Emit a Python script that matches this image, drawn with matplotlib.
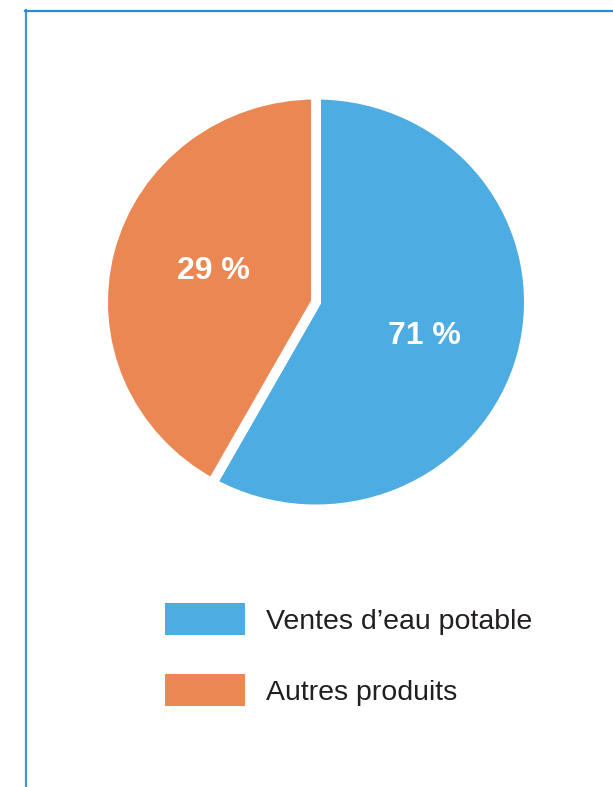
import matplotlib
matplotlib.use("Agg")
import matplotlib.pyplot as plt
from matplotlib.lines import Line2D
from matplotlib.patches import Patch
from matplotlib.transforms import offset_copy

# Data (wedge sizes as drawn in the reference, labels as printed)
categories = ["Ventes d\u2019eau potable", "Autres produits"]
wedge_sizes = [58.1, 41.9]
label_texts = ["71 %", "29 %"]
colors = ["#4DACE1", "#EB8753"]

W, H, DPI = 613, 787, 100
fig = plt.figure(figsize=(W / DPI, H / DPI), dpi=DPI)
fig.patch.set_facecolor("white")

# pie axes placed in pixel terms (slightly elliptical like the reference)
cx, cy = 316, 302
half_w, half_h = 213, 207.5
ax = fig.add_axes([(cx - half_w) / W, (H - cy - half_h) / H,
                   2 * half_w / W, 2 * half_h / H])
wedges, texts, autotexts = ax.pie(
    wedge_sizes, colors=colors, startangle=90, counterclock=False,
    radius=1.0, autopct=lambda p: "", pctdistance=0.53,
    wedgeprops=dict(edgecolor="white", linewidth=7.2),
)
label_nudges = [(-1, -6), (7, 3)]  # pixel nudges for label placement
for t, s, (dx, dy) in zip(autotexts, label_texts, label_nudges):
    t.set_text(s)
    t.set_color("white")
    t.set_fontsize(23)
    t.set_fontweight("bold")
    t.set_fontfamily("Liberation Sans")
    t.set_transform(offset_copy(ax.transData, fig=fig, x=dx, y=dy, units="dots"))
ax.set_aspect("auto")
ax.set_xlim(-1, 1)
ax.set_ylim(-1, 1)
ax.axis("off")

# legend
handles = [Patch(facecolor=c, edgecolor="none") for c in colors]
fs = 20.5
fspx = fs * DPI / 72
hh = (32 / fspx - 0.245) / 0.65
leg = fig.legend(handles, categories, loc="upper left",
                 bbox_to_anchor=(165 / W, 1 - 603 / H),
                 frameon=False, borderpad=0, borderaxespad=0,
                 handlelength=80 / fspx, handleheight=hh,
                 handletextpad=0.72, labelspacing=1.38,
                 prop=dict(family="Liberation Sans", size=fs))
for t in leg.get_texts():
    t.set_color("#231f20")

# frame lines (left and top)
fig.add_artist(Line2D([26 / W, 26 / W], [0, 1 - 10 / H], color="#3c97dc",
                      linewidth=1.6, transform=fig.transFigure))
fig.add_artist(Line2D([25 / W, 1], [1 - 11 / H, 1 - 11 / H], color="#2b8bd9",
                      linewidth=1.6, transform=fig.transFigure))

fig.savefig("out.png", dpi=DPI, facecolor="white")
